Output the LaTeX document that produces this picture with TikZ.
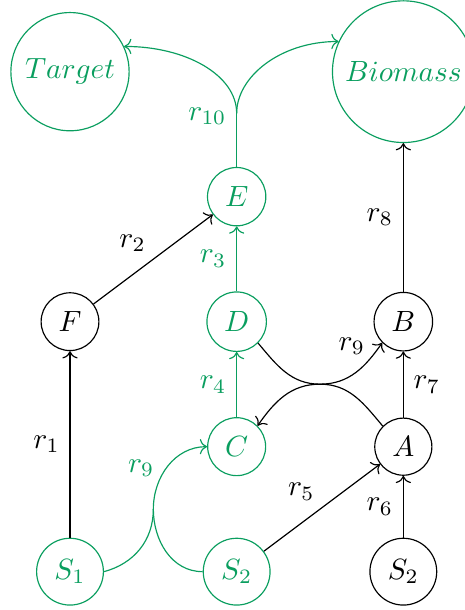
\documentclass[tikz,border=0pt]{standalone}
\usepackage{amsmath,amssymb}
\usepackage{tikz}
\usetikzlibrary{arrows.meta}
\definecolor{grn}{RGB}{10,158,95}
\tikzset{
  met/.style={draw,circle},
  gmet/.style={draw=grn,circle,text=grn},
  glink/.style={draw=grn,text=grn},
}

\begin{document}
\begin{tikzpicture}[->]
\useasboundingbox(-0.84,-0.46)rectangle(4.74,6.86);
\node[gmet](S1)at(0,0){$S_1$};
\node[gmet](S2)at(2,0){$S_2$};
\node[met](S3)at(4,0){$S_2$};
\node[gmet](C)at(2,1.5){$C$};
\node[met](A)at(4,1.5){$A$};
\node[met](F)at(0,3){$F$};
\node[gmet](D)at(2,3){$D$};
\node[met](B)at(4,3){$B$};
\node[gmet](E)at(2,4.5){$E$};
\node[gmet](T)at(0,6){$Target$};
\node[gmet](Bio)at(4,6){$Biomass$};
\coordinate(j9)at(1,0.75);
\coordinate(k9)at(3,2.25);
\coordinate(j10)at(2,5.5);
\draw(S1)--node[left]{$r_1$}(F);
\draw(F)--node[above left=-1pt]{$r_2$}(E);
\draw[glink](D)--node[left]{$r_3$}(E);
\draw[glink](C)--node[left]{$r_4$}(D);
\draw(S2)--node[above left=-1pt]{$r_5$}(A);
\draw(S3)--node[left]{$r_6$}(A);
\draw(A)--node[right]{$r_7$}(B);
\draw(B)--node[left]{$r_8$}(Bio);
% r9 (black)
\draw[-](D.south east)to[out=-50,in=180](k9);
\draw(k9)to[out=0,in=-125]node[above left=-2pt,pos=0.75]{$r_9$}(B.south west);
\draw[-](A.north west)to[out=130,in=0](k9);
\draw(k9)to[out=180,in=55](C.north east);
% r9 (green)
\draw[glink,-](S1.east)to[out=15,in=-90](j9);
\draw[glink,-](S2.west)to[out=180,in=-90](j9);
\draw[glink](j9)to[out=90,in=180]node[above left=-2pt,pos=0.3]{$r_9$}(C.west);
% r10
\draw[glink,-](E)--(j10)node[left,pos=0.95]{$r_{10}$};
\draw[glink](j10)to[out=90,in=0,out looseness=0.75,in looseness=1.2](T.25);
\draw[glink](j10)to[out=90,in=180,out looseness=0.75,in looseness=1.2](Bio.155);
\end{tikzpicture}
\end{document}
